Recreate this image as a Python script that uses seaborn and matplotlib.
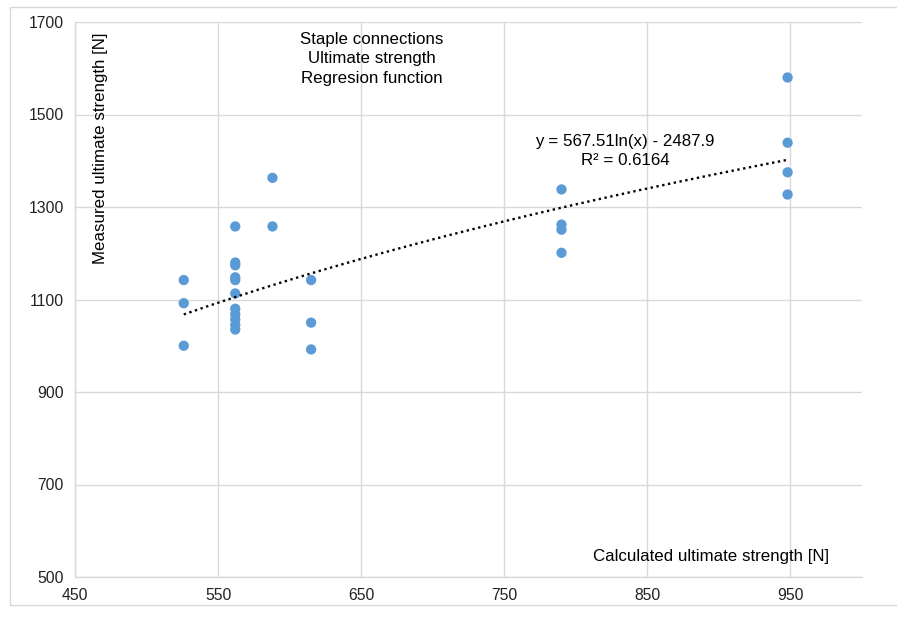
import numpy as np
import pandas as pd
import matplotlib
matplotlib.use("Agg")
import matplotlib.pyplot as plt
from matplotlib.patches import Rectangle
import seaborn as sns

# Calculated vs. measured ultimate strength of staple connections [N]
calc_526 = [1142, 1092, 1000]
calc_562 = [1258, 1180, 1174, 1148, 1142, 1113, 1080, 1068, 1057, 1045, 1035]
calc_588 = [1363, 1258]
calc_615 = [1142, 1050, 992]
calc_790 = [1338, 1262, 1251, 1201]
calc_948 = [1580, 1439, 1375, 1327]
calculated = [526] * len(calc_526) + [562] * len(calc_562) + [588] * len(calc_588) \
    + [615] * len(calc_615) + [790] * len(calc_790) + [948] * len(calc_948)
measured = calc_526 + calc_562 + calc_588 + calc_615 + calc_790 + calc_948

# Logarithmic regression y = a ln(x) + b
coef_a = 567.51
coef_b = -2487.9
r_squared = 0.6164

x_ticks = [450, 550, 650, 750, 850, 950]
y_ticks = [500, 700, 900, 1100, 1300, 1500, 1700]

df = pd.DataFrame({"calc": calculated, "meas": measured})
xs = np.linspace(min(calculated), max(calculated), 200)
trend = pd.DataFrame({"calc": xs, "meas": coef_a * np.log(xs) + coef_b})

sns.set_theme(style="white")
plt.rcParams["font.family"] = ["Liberation Sans", "DejaVu Sans"]

fig = plt.figure(figsize=(8.97, 6.19), dpi=100)
ax = fig.add_axes([75 / 897, 42 / 619, (862 - 75) / 897, (577 - 22) / 619])

# outer chart frame
fig.patches.append(Rectangle((10 / 897, 14 / 619), 1.2, 598 / 619, transform=fig.transFigure,
                             fill=False, edgecolor="#d9d9d9", linewidth=1.0, clip_on=False))

ax.set_xlim(450, 1000)
ax.set_ylim(500, 1700)
ax.set_xticks(x_ticks)
ax.set_yticks(y_ticks)
ax.grid(True, color="#d9d9d9", linewidth=1.0)
ax.set_axisbelow(True)
for side in ["top", "right"]:
    ax.spines[side].set_visible(False)
for side in ["left", "bottom"]:
    ax.spines[side].set_color("#d9d9d9")
    ax.spines[side].set_linewidth(1.0)
ax.tick_params(axis="both", length=0, labelsize=11.3, labelcolor="#222222", pad=8)

sns.scatterplot(data=df, x="calc", y="meas", ax=ax, color="#5B9BD5", s=55,
                edgecolor="none", zorder=3)
sns.lineplot(data=trend, x="calc", y="meas", ax=ax, color="black",
             linewidth=1.7, linestyle=(0, (1, 1.5)), zorder=4)
ax.set_xlabel("")
ax.set_ylabel("")

fs = 12.2
tr = ax.transAxes
ax.text((372 - 75) / 787, (577 - 59) / 555,
        "Staple connections\nUltimate strength\nRegresion function",
        transform=tr, ha="center", va="center", fontsize=fs, color="black",
        linespacing=1.38, multialignment="center")
ax.text((625 - 75) / 787, (577 - 151) / 555,
        f"y = {coef_a}ln(x) - {abs(coef_b)}\nR² = {r_squared}",
        transform=tr, ha="center", va="center", fontsize=fs, color="black",
        linespacing=1.27, multialignment="center")
ax.text((711 - 75) / 787, (577 - 557) / 555, "Calculated ultimate strength [N]",
        transform=tr, ha="center", va="center", fontsize=fs, color="black")
ax.text((100 - 75) / 787, (577 - 148) / 555, "Measured ultimate strength [N]",
        transform=tr, ha="center", va="center", rotation=90, fontsize=fs, color="black")

fig.savefig("out.png", dpi=100)
